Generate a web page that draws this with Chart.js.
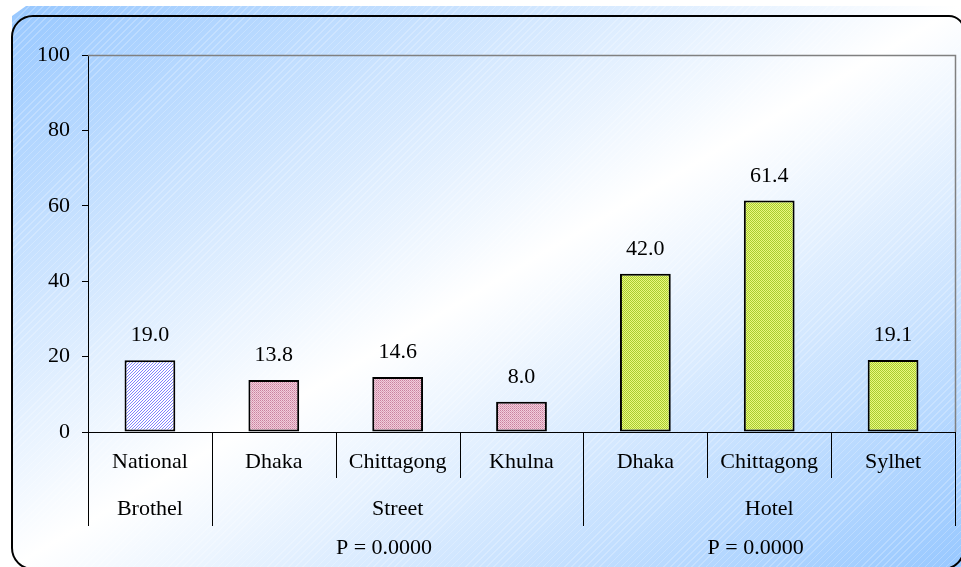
<!DOCTYPE html>
<html>
<head>
<meta charset="utf-8">
<script src="https://cdn.jsdelivr.net/npm/chart.js@4/dist/chart.umd.min.js"></script>
<style>
  html, body { margin: 0; padding: 0; background: #ffffff; }
  #wrap { position: relative; width: 961px; height: 567px; overflow: hidden; }
  #bg {
    position: absolute; left: 12px; top: 6px; right: 0; bottom: 0;
    background: linear-gradient(to bottom right, #98c8ff 0%, #ffffff 50%, #98c8ff 100%);
    clip-path: polygon(14px 0, 100% 0, 100% 100%, 0 100%, 0 10px);
  }
  #hatch {
    position: absolute; left: 12px; top: 6px; right: 0; bottom: 0;
    background: repeating-linear-gradient(-45deg, rgba(255,255,255,0.22) 0px, rgba(255,255,255,0.22) 1px, rgba(255,255,255,0) 1px, rgba(255,255,255,0) 5px);
    clip-path: polygon(14px 0, 100% 0, 100% 100%, 0 100%, 0 10px);
  }
  #frame {
    position: absolute; left: 11px; top: 15px; width: 954px; height: 555px;
    border: 2.5px solid #000; border-radius: 22px 16px 22px 22px; box-sizing: border-box;
  }
  canvas { position: absolute; left: 0; top: 0; }
</style>
</head>
<body>
<div id="wrap">
  <div id="bg"></div>
  <div id="hatch"></div>
  <div id="frame"></div>
  <canvas id="c" width="961" height="567"></canvas>
</div>
<script>
// ---- data ----
const categories = ['National', 'Dhaka', 'Chittagong', 'Khulna', 'Dhaka', 'Chittagong', 'Sylhet'];
const values = [19.0, 13.8, 14.6, 8.0, 42.0, 61.4, 19.1];
const groupNames = ['Brothel', 'Street', 'Hotel'];
const groupFirst = [0, 1, 4];
const groupLast = [0, 3, 6];
const groupP = ['', 'P = 0.0000', 'P = 0.0000'];
const yTicks = [0, 20, 40, 60, 80, 100];
const barGroup = [0, 1, 1, 1, 2, 2, 2];

const FONT = '"Liberation Serif", "Times New Roman", Times, serif';
const FS = 22;

function makePattern(kind) {
  const c = document.createElement('canvas');
  const g = c.getContext('2d');
  if (kind === 0) {
    c.width = 3; c.height = 3;
    g.fillStyle = '#ffffff'; g.fillRect(0, 0, 3, 3);
    g.fillStyle = '#8282ff';
    for (let i = 0; i < 3; i++) g.fillRect(i, 2 - i, 1, 1);
  } else if (kind === 1) {
    c.width = 2; c.height = 2;
    g.fillStyle = '#f2ccdb'; g.fillRect(0, 0, 2, 2);
    g.fillStyle = '#c8829f'; g.fillRect(0, 0, 1, 1);
    g.fillStyle = '#d9a0b8'; g.fillRect(1, 1, 1, 1);
  } else {
    c.width = 2; c.height = 2;
    g.fillStyle = '#eaf880'; g.fillRect(0, 0, 2, 2);
    g.fillStyle = '#a8cc30'; g.fillRect(0, 0, 1, 1); g.fillRect(1, 1, 1, 1);
  }
  return document.getElementById('c').getContext('2d').createPattern(c, 'repeat');
}

const decor = {
  id: 'decor',
  afterDatasetsDraw(chart) {
    const ctx = chart.ctx;
    const meta = chart.getDatasetMeta(0);
    ctx.save();
    ctx.font = FS + 'px ' + FONT;
    ctx.fillStyle = '#000';
    ctx.textAlign = 'center';
    ctx.textBaseline = 'alphabetic';
    meta.data.forEach((bar, i) => {
      ctx.fillText(values[i].toFixed(1), bar.x, bar.y - 19);
    });
    ctx.restore();
  },
  afterDraw(chart) {
    const ctx = chart.ctx;
    const a = chart.chartArea;
    const xs = chart.scales.x;
    ctx.save();
    ctx.strokeStyle = '#808080';
    ctx.lineWidth = 1.5;
    ctx.beginPath();
    ctx.moveTo(a.left, a.top + 0.5);
    ctx.lineTo(a.right + 0.5, a.top + 0.5);
    ctx.lineTo(a.right + 0.5, a.bottom);
    ctx.stroke();

    const n = categories.length;
    const bound = (i) => {
      if (i <= 0) return a.left;
      if (i >= n) return a.right;
      return (xs.getPixelForValue(i - 1) + xs.getPixelForValue(i)) / 2;
    };
    ctx.strokeStyle = '#000';
    ctx.lineWidth = 1;
    for (let i = 0; i <= n; i++) {
      const isGroupEdge = i === 0 || i === n || groupFirst.includes(i);
      const len = isGroupEdge ? 94 : 46;
      const x = Math.round(bound(i)) + 0.5;
      ctx.beginPath();
      ctx.moveTo(x, a.bottom);
      ctx.lineTo(x, a.bottom + len);
      ctx.stroke();
    }
    ctx.font = FS + 'px ' + FONT;
    ctx.fillStyle = '#000';
    ctx.textAlign = 'center';
    ctx.textBaseline = 'alphabetic';
    categories.forEach((c, i) => {
      ctx.fillText(c, xs.getPixelForValue(i), a.bottom + 36);
    });
    groupNames.forEach((g, k) => {
      const l = bound(groupFirst[k]);
      const r = bound(groupLast[k] + 1);
      ctx.fillText(g, (l + r) / 2, a.bottom + 83);
      if (groupP[k]) {
        const cw = (a.right - a.left) / n;
        ctx.fillText(groupP[k], (l + r) / 2 - 0.11 * cw, a.bottom + 122);
      }
    });
    ctx.restore();
  }
};

const patterns = [makePattern(0), makePattern(1), makePattern(2)];
new Chart(document.getElementById('c'), {
  type: 'bar',
  data: {
    labels: categories,
    datasets: [{
      data: values,
      backgroundColor: barGroup.map(g => patterns[g]),
      borderColor: '#000',
      borderWidth: 2,
      borderSkipped: false,
      categoryPercentage: 1.0,
      barPercentage: 0.41
    }]
  },
  options: {
    responsive: false,
    animation: false,
    devicePixelRatio: 1,
    layout: { padding: { top: 55, right: 6, left: 0, bottom: 0 } },
    plugins: { legend: { display: false }, tooltip: { enabled: false } },
    scales: {
      x: {
        type: 'category',
        offset: true,
        ticks: { display: false },
        grid: { display: false },
        border: { display: true, color: '#000', width: 1 },
        afterFit(s) { s.height = 135; }
      },
      y: {
        min: 0, max: 100,
        afterBuildTicks(s) { s.ticks = yTicks.map(v => ({ value: v })); },
        ticks: {
          color: '#000',
          font: { family: FONT, size: FS },
          padding: 12
        },
        grid: { drawOnChartArea: false, color: '#000', tickLength: 6, tickWidth: 1 },
        border: { display: true, color: '#000', width: 1 },
        afterFit(s) { s.width = 88; }
      }
    }
  },
  plugins: [decor]
});
</script>
</body>
</html>
